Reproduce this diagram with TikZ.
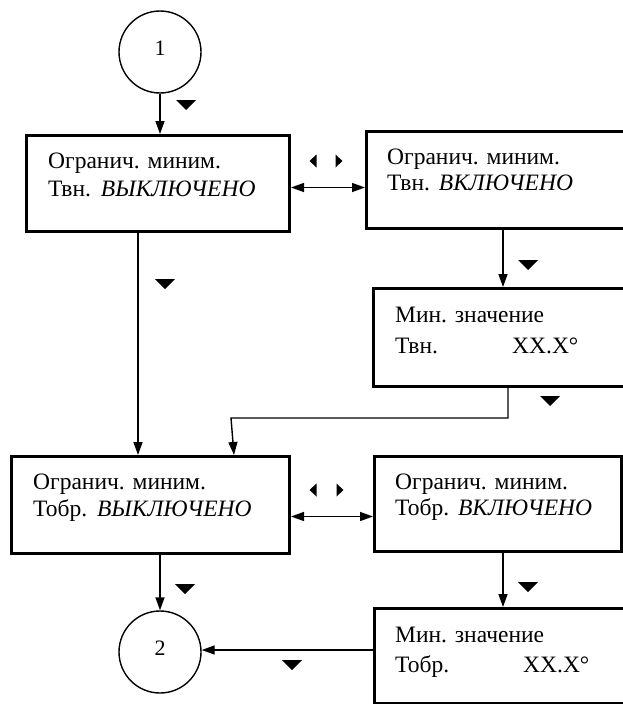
\documentclass[tikz,border=0pt]{standalone}
\usepackage{fontspec}
\setmainfont{Liberation Serif}
\usetikzlibrary{arrows.meta}
\begin{document}
\begin{tikzpicture}[x=1pt,y=-1pt,
  screen/.style={draw, line width=3pt, inner sep=0pt, anchor=north west},
  conn/.style={line width=1.4pt},
  arr/.style={conn, -{Triangle[length=13pt,width=9pt]}},
  dblarr/.style={conn, {Triangle[length=13pt,width=9pt]}-{Triangle[length=13pt,width=9pt]}},
  line text/.style={anchor=base west, inner sep=0pt, font=\fontsize{23.5}{27}\selectfont},
  connector/.style={draw, circle, line width=1.4pt, minimum size=82pt, inner sep=0pt,
    font=\fontsize{22}{26}\selectfont},
  downmark/.pic={\fill (-10,-5) -- (10,-5) -- (0,5) -- cycle;},
  leftmark/.pic={\fill (3.5,-6.5) -- (3.5,6.5) -- (-3.5,0) -- cycle;},
  rightmark/.pic={\fill (-3.5,-6.5) -- (-3.5,6.5) -- (3.5,0) -- cycle;},
]
\useasboundingbox (0,0) rectangle (623,704);

% connectors to the neighbouring pages
\node[connector] (c1) at (160,52) {\raisebox{7pt}{1}};
\node[connector] (c2) at (160,652) {\raisebox{7pt}{2}};

% display screens
\node[screen, minimum width=263pt, minimum height=96pt] (A) at (25,134) {};
\node[screen, minimum width=261pt, minimum height=97pt] (B) at (365,130) {};
\node[screen, minimum width=254pt, minimum height=98pt] (D) at (372,287) {};
\node[screen, minimum width=278pt, minimum height=97pt] (C) at (10,455) {};
\node[screen, minimum width=247pt, minimum height=95pt] (E) at (373,455) {};
\node[screen, minimum width=253pt, minimum height=95pt] (F) at (373,607) {};

% screen texts
\node[line text] (A1) at (48,168) {Огранич. миним.};
\node[line text] (A2) at (48,196) {Твн.\hspace{10pt}\textit{ВЫКЛЮЧЕНО}};
\node[line text] (B1) at (387,164) {Огранич. миним.};
\node[line text] (B2) at (387,190) {Твн.\hspace{9pt}\textit{ВКЛЮЧЕНО}};
\node[line text] (D1) at (395,322) {Мин. значение};
\node[line text] (D2) at (395,353) {\makebox[117pt][l]{Твн.}XX.X°};
\node[line text] (C1) at (33,489) {Огранич. миним.};
\node[line text] (C2) at (33,516) {Тобр.\hspace{10pt}\textit{ВЫКЛЮЧЕНО}};
\node[line text] (E1) at (395,489) {Огранич. миним.};
\node[line text] (E2) at (395,515) {Тобр.\hspace{9pt}\textit{ВКЛЮЧЕНО}};
\node[line text] (F1) at (395,642) {Мин. значение};
\node[line text] (F2) at (395,672) {\makebox[128pt][l]{Тобр.}XX.X°};

% flow
\draw[arr] (c1.south) -- (c1.south |- A.north);
\draw[arr] ([xshift=113pt]A.south west) -- ([xshift=113pt]A.south west |- C.north);
\draw[arr] ([xshift=138pt]B.south west) -- ([xshift=138pt]B.south west |- D.north);
\coordinate (j1) at (231,418);
\draw[arr] ([xshift=136pt]D.south west) |- (j1) -- ([xshift=224pt]C.north west);
\draw[dblarr] ([yshift=-4pt]A.east) -- ([yshift=-4pt]A.east -| B.west);
\draw[dblarr] ([yshift=-11.5pt]C.east) -- ([yshift=-11.5pt]C.east -| E.west);
\draw[arr] (C.south -| c2) -- (c2.north);
\draw[arr] ([xshift=130pt]E.south west) -- ([xshift=130pt]E.south west |- F.north);
\draw[arr] ([yshift=2pt]F.west |- c2.east) -- ([yshift=2pt]c2.east);

% key markers
\pic at (186,105) {downmark};
\pic at (165,284) {downmark};
\pic at (528,265) {downmark};
\pic at (550,401) {downmark};
\pic at (185,589) {downmark};
\pic at (528,587) {downmark};
\pic at (292,665) {downmark};
\pic at (313,161) {leftmark};
\pic at (339,161) {rightmark};
\pic at (313,490) {leftmark};
\pic at (340,490) {rightmark};
\end{tikzpicture}
\end{document}
